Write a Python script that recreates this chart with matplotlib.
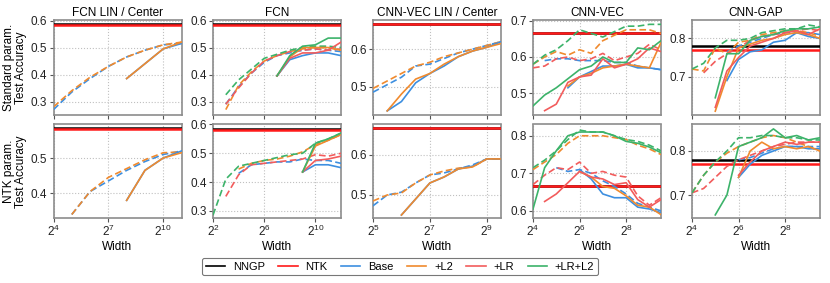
import numpy as np
import matplotlib
matplotlib.use("Agg")
import matplotlib.pyplot as plt

plt.rcParams['font.family'] = ['Liberation Sans', 'DejaVu Sans']
plt.rcParams['mathtext.fontset'] = 'custom'
plt.rcParams['mathtext.rm'] = 'Liberation Sans'
plt.rcParams['mathtext.it'] = 'Liberation Sans'

nan = np.nan
C_BASE = '#3d8fe0'
C_L2 = '#f08a2e'
C_LR = '#f25c5c'
C_LRL2 = '#3cb36a'

titles = ['FCN LIN / Center', 'FCN', 'CNN-VEC LIN / Center', 'CNN-VEC', 'CNN-GAP']

# widths (log2) per column
w_fcnlin = np.arange(4, 12)
w_fcn = np.arange(2, 13)
w_veclin = np.arange(5, 10, 0.5)
w_vec = np.arange(4, 10, 0.5)
w_gap = np.arange(4, 10, 0.5)

# kernel baselines per column, row 1 / row 2
nngp_std = [0.587, 0.587, 0.667, 0.667, 0.781]
ntk_std = [0.583, 0.583, 0.667, 0.667, 0.769]
nngp_ntk = [0.586, 0.586, 0.667, 0.667, 0.780]
ntk_ntk = [0.582, 0.582, 0.667, 0.667, 0.770]

# ---- FCN LIN / Center
fcnlin_std_base_dash = [0.27, 0.335, 0.385, 0.43, 0.465, 0.49, 0.51, 0.515]
fcnlin_std_l2_dash = [0.28, 0.34, 0.39, 0.43, 0.465, 0.49, 0.51, 0.52]
fcnlin_std_base_sol = [nan, nan, nan, nan, 0.385, 0.44, 0.495, 0.515]
fcnlin_std_l2_sol = [nan, nan, nan, nan, 0.385, 0.44, 0.495, 0.52]
fcnlin_ntk_base_dash = [nan, 0.34, 0.405, 0.435, 0.465, 0.49, 0.51, 0.52]
fcnlin_ntk_l2_dash = [nan, 0.34, 0.405, 0.445, 0.47, 0.495, 0.515, 0.517]
fcnlin_ntk_base_sol = [nan, nan, nan, nan, 0.38, 0.465, 0.5, 0.52]
fcnlin_ntk_l2_sol = [nan, nan, nan, nan, 0.38, 0.465, 0.5, 0.515]

# ---- FCN
fcn_std_base_dash = [nan, 0.29, 0.355, 0.405, 0.445, 0.47, 0.48, 0.49, 0.495, 0.49, 0.485]
fcn_std_l2_dash = [nan, 0.27, 0.36, 0.41, 0.45, 0.47, 0.485, 0.495, 0.5, 0.5, 0.49]
fcn_std_lr_dash = [nan, 0.29, 0.35, 0.405, 0.45, 0.47, 0.485, 0.49, 0.495, 0.49, 0.495]
fcn_std_lrl2_dash = [nan, 0.325, 0.38, 0.42, 0.46, 0.475, 0.49, 0.5, 0.505, 0.505, 0.5]
fcn_std_base_sol = [nan] * 5 + [0.395, 0.455, 0.47, 0.48, 0.48, 0.47]
fcn_std_l2_sol = [nan] * 5 + [0.395, 0.465, 0.5, 0.5, 0.5, 0.49]
fcn_std_lr_sol = [nan] * 5 + [0.395, 0.46, 0.48, 0.48, 0.49, 0.52]
fcn_std_lrl2_sol = [nan] * 5 + [0.395, 0.47, 0.505, 0.51, 0.535, 0.535]
fcn_ntk_base_dash = [nan, nan, 0.43, 0.46, 0.465, 0.47, 0.47, 0.48, 0.475, 0.475, 0.465]
fcn_ntk_l2_dash = [nan, nan, 0.445, 0.465, 0.475, 0.48, 0.49, 0.505, 0.53, 0.545, 0.565]
fcn_ntk_lr_dash = [nan, 0.35, 0.425, 0.46, 0.465, 0.47, 0.475, 0.48, 0.495, 0.49, 0.5]
fcn_ntk_lrl2_dash = [0.285, 0.41, 0.455, 0.465, 0.475, 0.485, 0.495, 0.5, 0.535, 0.55, 0.57]
fcn_ntk_base_sol = [nan] * 7 + [0.435, 0.46, 0.46, 0.45]
fcn_ntk_l2_sol = [nan] * 7 + [0.435, 0.525, 0.545, 0.565]
fcn_ntk_lr_sol = [nan] * 7 + [0.435, 0.475, 0.48, 0.49]
fcn_ntk_lrl2_sol = [nan] * 7 + [0.435, 0.535, 0.55, 0.57]

# ---- CNN-VEC LIN / Center
veclin_std_base_dash = [0.485, 0.505, 0.525, 0.555, 0.56, 0.575, 0.59, 0.6, 0.61, 0.62]
veclin_std_l2_dash = [0.495, 0.515, 0.535, 0.555, 0.565, 0.58, 0.59, 0.6, 0.61, 0.62]
veclin_std_base_sol = [nan, 0.435, 0.46, 0.51, 0.535, 0.555, 0.58, 0.595, 0.605, 0.62]
veclin_std_l2_sol = [nan, 0.435, 0.48, 0.52, 0.535, 0.56, 0.58, 0.595, 0.605, 0.615]
veclin_ntk_base_dash = [0.473, 0.5, 0.507, 0.53, 0.55, 0.555, 0.565, 0.575, 0.59, 0.59]
veclin_ntk_l2_dash = [0.485, 0.5, 0.505, 0.53, 0.55, 0.56, 0.567, 0.57, 0.59, 0.59]
veclin_ntk_base_sol = [nan, nan, 0.45, 0.49, 0.53, 0.545, 0.565, 0.572, 0.59, 0.59]
veclin_ntk_l2_sol = [nan, nan, 0.45, 0.49, 0.53, 0.545, 0.565, 0.57, 0.59, 0.59]

# ---- CNN-VEC
vec_std_base_dash = [nan, 0.59, 0.595, 0.595, 0.59, 0.59, 0.59, 0.585, 0.585, 0.575, 0.57, 0.565]
vec_std_l2_dash = [0.58, 0.6, 0.615, 0.605, 0.62, 0.61, 0.645, 0.66, 0.675, 0.675, 0.675, 0.665]
vec_std_lr_dash = [0.57, 0.575, 0.595, 0.6, 0.59, 0.595, 0.61, 0.59, 0.6, 0.61, 0.635, 0.62]
vec_std_lrl2_dash = [0.58, 0.605, 0.62, 0.645, 0.675, 0.665, 0.655, 0.67, 0.685, 0.685, 0.69, 0.69]
vec_std_base_sol = [nan, nan, nan, 0.515, 0.545, 0.56, 0.575, 0.575, 0.58, 0.57, 0.57, 0.565]
vec_std_l2_sol = [nan, nan, nan, 0.52, 0.545, 0.555, 0.57, 0.575, 0.58, 0.575, 0.57, 0.64]
vec_std_lr_sol = [nan, 0.452, 0.47, 0.53, 0.545, 0.55, 0.595, 0.57, 0.58, 0.595, 0.625, 0.615]
vec_std_lrl2_sol = [0.465, 0.495, 0.515, 0.54, 0.565, 0.575, 0.6, 0.585, 0.585, 0.625, 0.62, 0.645]
vec_ntk_base_dash = [nan, nan, 0.715, 0.705, 0.71, 0.7, 0.68, 0.665, 0.645, 0.62, 0.61, 0.6]
vec_ntk_l2_dash = [0.71, 0.73, 0.75, 0.78, 0.8, 0.8, 0.8, 0.795, 0.79, 0.775, 0.765, 0.75]
vec_ntk_lr_dash = [0.67, 0.695, 0.715, 0.71, 0.73, 0.7, 0.705, 0.695, 0.69, 0.64, 0.615, 0.635]
vec_ntk_lrl2_dash = [0.715, 0.735, 0.76, 0.79, 0.815, 0.81, 0.81, 0.8, 0.79, 0.785, 0.775, 0.76]
vec_ntk_base_sol = [nan, nan, nan, nan, 0.71, 0.685, 0.645, 0.635, 0.635, 0.61, 0.605, 0.595]
vec_ntk_l2_sol = [nan, nan, nan, nan, 0.705, 0.69, 0.665, 0.66, 0.64, 0.615, 0.61, 0.59]
vec_ntk_lr_sol = [nan, 0.625, 0.645, 0.675, 0.705, 0.69, 0.685, 0.67, 0.675, 0.63, 0.61, 0.63]
vec_ntk_lrl2_sol = [0.605, 0.715, 0.76, 0.8, 0.81, 0.81, 0.81, 0.8, 0.785, 0.78, 0.77, 0.755]

# ---- CNN-GAP
gap_std_base_dash = [nan, nan, nan, 0.765, 0.78, 0.79, 0.8, 0.81, 0.815, 0.815, 0.815, 0.81]
gap_std_l2_dash = [0.72, 0.715, 0.775, 0.76, 0.79, 0.795, 0.81, 0.815, 0.82, 0.82, 0.815, 0.805]
gap_std_lr_dash = [nan, 0.71, 0.74, 0.76, 0.775, 0.795, 0.805, 0.81, 0.815, 0.82, 0.825, 0.82]
gap_std_lrl2_dash = [0.72, 0.735, 0.775, 0.795, 0.795, 0.8, 0.815, 0.82, 0.825, 0.825, 0.835, 0.83]
gap_std_base_sol = [nan, nan, nan, 0.69, 0.745, 0.765, 0.77, 0.79, 0.795, 0.815, 0.805, 0.8]
gap_std_l2_sol = [nan, nan, 0.61, 0.7, 0.775, 0.785, 0.795, 0.8, 0.81, 0.815, 0.81, 0.8]
gap_std_lr_sol = [nan, nan, 0.62, 0.715, 0.75, 0.78, 0.79, 0.8, 0.815, 0.82, 0.81, 0.825]
gap_std_lrl2_sol = [nan, nan, 0.645, 0.76, 0.76, 0.795, 0.805, 0.81, 0.82, 0.825, 0.825, 0.83]
gap_ntk_base_dash = [nan, nan, nan, nan, 0.78, 0.785, 0.795, 0.805, 0.81, 0.81, 0.81, 0.81]
gap_ntk_l2_dash = [0.705, 0.745, 0.775, 0.795, 0.81, 0.82, 0.83, 0.835, 0.83, 0.82, 0.81, 0.8]
gap_ntk_lr_dash = [0.705, 0.715, 0.74, 0.765, 0.78, 0.79, 0.8, 0.81, 0.815, 0.82, 0.82, 0.82]
gap_ntk_lrl2_dash = [0.705, 0.745, 0.775, 0.8, 0.83, 0.83, 0.835, 0.835, 0.83, 0.83, 0.825, 0.825]
gap_ntk_base_sol = [nan, nan, nan, nan, 0.74, 0.77, 0.79, 0.8, 0.81, 0.81, 0.805, 0.805]
gap_ntk_l2_sol = [nan, nan, nan, nan, 0.74, 0.8, 0.82, 0.805, 0.81, 0.805, 0.81, 0.8]
gap_ntk_lr_sol = [nan, nan, nan, nan, 0.745, 0.775, 0.8, 0.81, 0.82, 0.815, 0.82, 0.82]
gap_ntk_lrl2_sol = [nan, nan, 0.655, 0.7, 0.81, 0.82, 0.83, 0.85, 0.83, 0.835, 0.825, 0.83]

widths = [w_fcnlin, w_fcn, w_veclin, w_vec, w_gap]
xlims = [(4, 11), (2, 12), (5, 9.5), (4, 9.5), (4, 9.5)]
xticks = [[4, 7, 10], [2, 6, 10], [5, 7, 9], [4, 6, 8], [4, 6, 8]]
ylims_std = [(0.25, 0.602), (0.25, 0.602), (0.424, 0.678), (0.44, 0.702), (0.6, 0.848)]
ylims_ntk = [(0.33, 0.595), (0.275, 0.6), (0.4425, 0.676), (0.581, 0.83), (0.648, 0.86)]
yticks_std = [[0.3, 0.4, 0.5, 0.6], [0.3, 0.4, 0.5, 0.6], [0.5, 0.6], [0.5, 0.6, 0.7], [0.7, 0.8]]
yticks_ntk = [[0.4, 0.5], [0.3, 0.4, 0.5, 0.6], [0.5, 0.6], [0.6, 0.7, 0.8], [0.7, 0.8]]

# series per panel: (values, colour, dashed)
series_std = [
    [(fcnlin_std_base_dash, C_BASE, True), (fcnlin_std_l2_dash, C_L2, True),
     (fcnlin_std_base_sol, C_BASE, False), (fcnlin_std_l2_sol, C_L2, False)],
    [(fcn_std_base_dash, C_BASE, True), (fcn_std_l2_dash, C_L2, True),
     (fcn_std_lr_dash, C_LR, True), (fcn_std_lrl2_dash, C_LRL2, True),
     (fcn_std_base_sol, C_BASE, False), (fcn_std_l2_sol, C_L2, False),
     (fcn_std_lr_sol, C_LR, False), (fcn_std_lrl2_sol, C_LRL2, False)],
    [(veclin_std_base_dash, C_BASE, True), (veclin_std_l2_dash, C_L2, True),
     (veclin_std_base_sol, C_BASE, False), (veclin_std_l2_sol, C_L2, False)],
    [(vec_std_base_dash, C_BASE, True), (vec_std_l2_dash, C_L2, True),
     (vec_std_lr_dash, C_LR, True), (vec_std_lrl2_dash, C_LRL2, True),
     (vec_std_base_sol, C_BASE, False), (vec_std_l2_sol, C_L2, False),
     (vec_std_lr_sol, C_LR, False), (vec_std_lrl2_sol, C_LRL2, False)],
    [(gap_std_base_dash, C_BASE, True), (gap_std_l2_dash, C_L2, True),
     (gap_std_lr_dash, C_LR, True), (gap_std_lrl2_dash, C_LRL2, True),
     (gap_std_base_sol, C_BASE, False), (gap_std_l2_sol, C_L2, False),
     (gap_std_lr_sol, C_LR, False), (gap_std_lrl2_sol, C_LRL2, False)],
]
series_ntk = [
    [(fcnlin_ntk_base_dash, C_BASE, True), (fcnlin_ntk_l2_dash, C_L2, True),
     (fcnlin_ntk_base_sol, C_BASE, False), (fcnlin_ntk_l2_sol, C_L2, False)],
    [(fcn_ntk_base_dash, C_BASE, True), (fcn_ntk_l2_dash, C_L2, True),
     (fcn_ntk_lr_dash, C_LR, True), (fcn_ntk_lrl2_dash, C_LRL2, True),
     (fcn_ntk_base_sol, C_BASE, False), (fcn_ntk_l2_sol, C_L2, False),
     (fcn_ntk_lr_sol, C_LR, False), (fcn_ntk_lrl2_sol, C_LRL2, False)],
    [(veclin_ntk_base_dash, C_BASE, True), (veclin_ntk_l2_dash, C_L2, True),
     (veclin_ntk_base_sol, C_BASE, False), (veclin_ntk_l2_sol, C_L2, False)],
    [(vec_ntk_base_dash, C_BASE, True), (vec_ntk_l2_dash, C_L2, True),
     (vec_ntk_lr_dash, C_LR, True), (vec_ntk_lrl2_dash, C_LRL2, True),
     (vec_ntk_base_sol, C_BASE, False), (vec_ntk_l2_sol, C_L2, False),
     (vec_ntk_lr_sol, C_LR, False), (vec_ntk_lrl2_sol, C_LRL2, False)],
    [(gap_ntk_base_dash, C_BASE, True), (gap_ntk_l2_dash, C_L2, True),
     (gap_ntk_lr_dash, C_LR, True), (gap_ntk_lrl2_dash, C_LRL2, True),
     (gap_ntk_base_sol, C_BASE, False), (gap_ntk_l2_sol, C_L2, False),
     (gap_ntk_lr_sol, C_LR, False), (gap_ntk_lrl2_sol, C_LRL2, False)],
]

W, H = 830, 283
fig = plt.figure(figsize=(W / 100, H / 100), dpi=100)
col_left = [53.5, 213, 373, 533, 692]
col_w = 128
row_top = [20, 124.5]
row_h = [95, 93.5]


def style(ax):
    for s in ax.spines.values():
        s.set_color('#8c8c8c')
        s.set_linewidth(1.2)
    ax.grid(True, ls=':', color='#c0c0c0', lw=0.8)
    ax.set_axisbelow(True)
    ax.tick_params(labelsize=8.5, color='#555555', length=3, width=0.8,
                   pad=1.5, labelcolor='#222222')


for r in range(2):
    for c in range(5):
        x0 = col_left[c] / W
        y0 = 1 - (row_top[r] + row_h[r]) / H
        ax = fig.add_axes([x0, y0, col_w / W, row_h[r] / H])
        style(ax)
        nn = nngp_std[c] if r == 0 else nngp_ntk[c]
        nt = ntk_std[c] if r == 0 else ntk_ntk[c]
        ax.axhline(nn, color='black', lw=1.8, zorder=3)
        ax.axhline(nt, color='#ff1a1a', lw=1.8, zorder=3)
        sers = series_std[c] if r == 0 else series_ntk[c]
        x = 2.0 ** widths[c]
        for vals, col, dash in sers:
            ax.plot(x, vals, color=col, lw=1.2, ls=(0, (4, 2)) if dash else '-', zorder=4)
        ax.set_xscale('log', base=2)
        ax.set_xlim(2.0 ** xlims[c][0], 2.0 ** xlims[c][1])
        ax.set_xticks([2.0 ** k for k in xticks[c]])
        ax.minorticks_off()
        if r == 0:
            ax.set_xticklabels([])
            ax.set_title(titles[c], fontsize=8.5, pad=3)
            ax.set_ylim(*ylims_std[c])
            ax.set_yticks(yticks_std[c])
        else:
            ax.set_xticklabels(['$2^{%d}$' % k for k in xticks[c]])
            ax.set_xlabel('Width', fontsize=8.5, labelpad=1)
            ax.set_ylim(*ylims_ntk[c])
            ax.set_yticks(yticks_ntk[c])
        ax.set_yticklabels(['%.1f' % v for v in ax.get_yticks()])
        if c == 0:
            ax.set_ylabel('Standard param.\nTest Accuracy' if r == 0 else 'NTK param.\nTest Accuracy',
                          fontsize=8.5, labelpad=3, linespacing=1.0)

labels = ['NNGP', 'NTK', 'Base', '+L2', '+LR', '+LR+L2']
colors = ['black', '#ff1a1a', C_BASE, C_L2, C_LR, C_LRL2]
handles = [plt.Line2D([], [], color=cc, lw=1.2) for cc in colors]
leg = fig.legend(handles, labels, loc='center', ncol=6, bbox_to_anchor=(400 / W, 1 - 266.5 / H),
                 fontsize=8, frameon=True, handlelength=1.75, columnspacing=1.2,
                 handletextpad=0.7, borderpad=0.35, fancybox=True)
leg.get_frame().set_edgecolor('#555555')
leg.get_frame().set_linewidth(0.8)

fig.savefig('out.png', dpi=100)
